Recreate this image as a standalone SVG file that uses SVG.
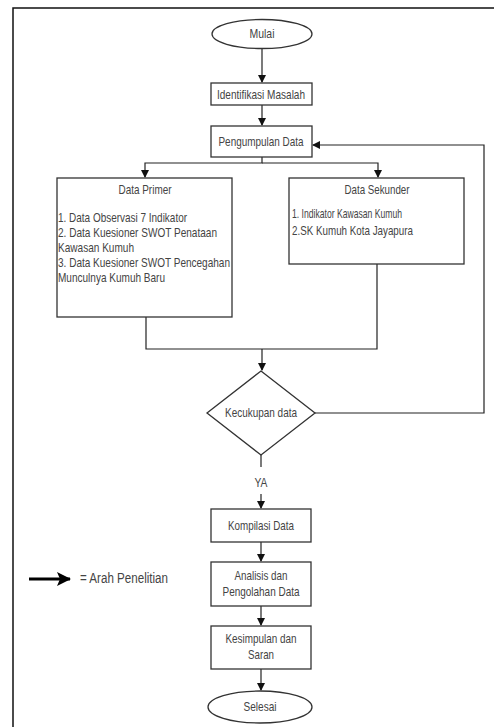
<svg xmlns="http://www.w3.org/2000/svg" width="494" height="727" viewBox="0 0 494 727">
<style>
.box{fill:#fff;stroke:#333;stroke-width:1.3}
.t{font-family:"Liberation Sans",Arial,sans-serif;font-size:13px;fill:#444}
.c{text-anchor:middle}
.ln{fill:none;stroke:#222;stroke-width:1.2}
</style>
<defs>
<marker id="ah" markerWidth="8" markerHeight="8" refX="7" refY="4" orient="auto" markerUnits="userSpaceOnUse">
<path d="M0,0 L8,4 L0,8 Z" fill="#111"/>
</marker>
<marker id="big" markerWidth="14" markerHeight="14" refX="13" refY="7" orient="auto" markerUnits="userSpaceOnUse">
<path d="M0,0 L14,7 L0,14 L3,7 Z" fill="#000"/>
</marker>
</defs>
<rect width="494" height="727" fill="#fff"/>
<path d="M13,727 V8 H494" fill="none" stroke="#111" stroke-width="1.5"/>

<g id="connectors">
<path class="ln" d="M262,48 V82" marker-end="url(#ah)"/>
<path class="ln" d="M262,105 V125" marker-end="url(#ah)"/>
<path class="ln" d="M262,157 V163 H145 V177" marker-end="url(#ah)"/>
<path class="ln" d="M262,163 H378 V177" marker-end="url(#ah)"/>
<path class="ln" d="M146,317 V349 H377 V264"/>
<path class="ln" d="M262,349 V370" marker-end="url(#ah)"/>
<path class="ln" d="M315,413 H484 V145 H313" marker-end="url(#ah)"/>
<path class="ln" d="M261,455 V467"/>
<path class="ln" d="M261,494 V508" marker-end="url(#ah)"/>
<path class="ln" d="M261,542 V561" marker-end="url(#ah)"/>
<path class="ln" d="M261,606 V625" marker-end="url(#ah)"/>
<path class="ln" d="M261,669 V690" marker-end="url(#ah)"/>
<text class="t c" x="261" y="487" textLength="13" lengthAdjust="spacingAndGlyphs">YA</text>
</g>

<g id="mulai">
<ellipse class="box" cx="262" cy="34" rx="50" ry="14.5"/>
<text class="t c" x="262" y="38" textLength="25" lengthAdjust="spacingAndGlyphs">Mulai</text>
</g>
<g id="identifikasi">
<rect class="box" x="211" y="83" width="101" height="22"/>
<text class="t c" x="261" y="98.5" textLength="88" lengthAdjust="spacingAndGlyphs">Identifikasi Masalah</text>
</g>
<g id="pengumpulan">
<rect class="box" x="211" y="126" width="101" height="31"/>
<text class="t c" x="261" y="146" textLength="85" lengthAdjust="spacingAndGlyphs">Pengumpulan Data</text>
</g>
<g id="primer">
<rect class="box" x="57" y="178" width="175" height="139"/>
<text class="t c" x="145" y="194" textLength="53" lengthAdjust="spacingAndGlyphs">Data Primer</text>
<text class="t" x="58" y="222" textLength="129" lengthAdjust="spacingAndGlyphs">1. Data Observasi 7 Indikator</text>
<text class="t" x="58" y="237" textLength="159" lengthAdjust="spacingAndGlyphs">2. Data Kuesioner SWOT Penataan</text>
<text class="t" x="58" y="252" textLength="76" lengthAdjust="spacingAndGlyphs">Kawasan Kumuh</text>
<text class="t" x="58" y="267" textLength="172" lengthAdjust="spacingAndGlyphs">3. Data Kuesioner SWOT Pencegahan</text>
<text class="t" x="58" y="282" textLength="107" lengthAdjust="spacingAndGlyphs">Munculnya Kumuh Baru</text>
</g>
<g id="sekunder">
<rect class="box" x="289" y="178" width="175" height="86"/>
<text class="t c" x="377" y="194" textLength="65" lengthAdjust="spacingAndGlyphs">Data Sekunder</text>
<text class="t" x="292" y="218" textLength="110" lengthAdjust="spacingAndGlyphs">1. Indikator Kawasan Kumuh</text>
<text class="t" x="292" y="235" textLength="121" lengthAdjust="spacingAndGlyphs">2.SK Kumuh Kota Jayapura</text>
</g>
<g id="kecukupan">
<path class="box" d="M261,371 L315,413 L261,455 L207,413 Z"/>
<text class="t c" x="261" y="417" textLength="72" lengthAdjust="spacingAndGlyphs">Kecukupan data</text>
</g>
<g id="kompilasi">
<rect class="box" x="211" y="509" width="100" height="33"/>
<text class="t c" x="261" y="530" textLength="66" lengthAdjust="spacingAndGlyphs">Kompilasi Data</text>
</g>
<g id="analisis">
<rect class="box" x="211" y="562" width="100" height="44"/>
<text class="t c" x="261" y="580" textLength="53" lengthAdjust="spacingAndGlyphs">Analisis dan</text>
<text class="t c" x="261" y="596" textLength="77" lengthAdjust="spacingAndGlyphs">Pengolahan Data</text>
</g>
<g id="kesimpulan">
<rect class="box" x="211" y="626" width="100" height="43"/>
<text class="t c" x="261" y="643" textLength="71" lengthAdjust="spacingAndGlyphs">Kesimpulan dan</text>
<text class="t c" x="261" y="659" textLength="26" lengthAdjust="spacingAndGlyphs">Saran</text>
</g>
<g id="selesai">
<ellipse class="box" cx="260" cy="707" rx="52" ry="16"/>
<text class="t c" x="260" y="711" textLength="33" lengthAdjust="spacingAndGlyphs">Selesai</text>
</g>
<g id="legend">
<path d="M29,579 H70" fill="none" stroke="#000" stroke-width="3" marker-end="url(#big)"/>
<text class="t" x="80" y="583" style="font-size:14px" textLength="88" lengthAdjust="spacingAndGlyphs">= Arah Penelitian</text>
</g>
</svg>
